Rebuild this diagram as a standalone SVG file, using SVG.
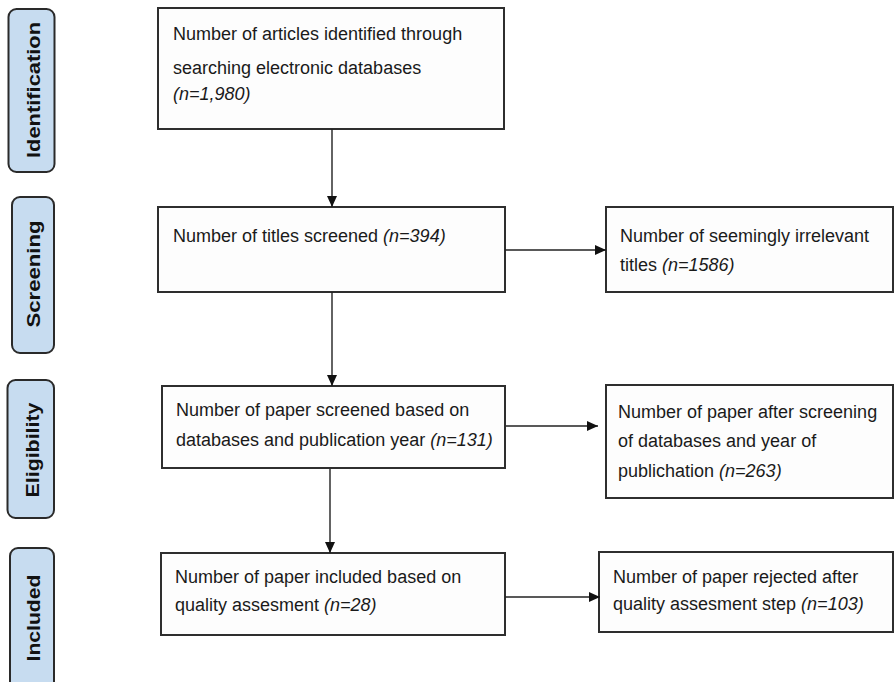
<svg xmlns="http://www.w3.org/2000/svg" width="895" height="682" viewBox="0 0 895 682">
<defs>
<marker id="ah" markerWidth="12" markerHeight="12" refX="11" refY="6" orient="auto" markerUnits="userSpaceOnUse">
<path d="M0,1 L11,6 L0,11 Z" fill="#111"/>
</marker>
<style>
.box{fill:#fdfdfd;stroke:#2e2e2e;stroke-width:2}
.side{fill:#c7dcf0;stroke:#2a2a2a;stroke-width:2}
.t{font-family:"Liberation Sans",Arial,sans-serif;font-size:18px;fill:#1a1a1a}
.i{font-style:italic}
.s{font-family:"Liberation Sans",Arial,sans-serif;font-size:19px;font-weight:bold;fill:#111;text-anchor:middle}
.c{stroke:#222;stroke-width:1.4;fill:none;marker-end:url(#ah)}
</style>
</defs>
<rect width="895" height="682" fill="#ffffff"/>

<g id="stage-identification">
<rect class="side" x="8.5" y="9" width="46" height="163" rx="8"/>
<text class="s" transform="translate(40,90) rotate(-90)" textLength="136" lengthAdjust="spacingAndGlyphs">Identification</text>
</g>
<g id="stage-screening">
<rect class="side" x="12" y="197" width="42" height="156" rx="8"/>
<text class="s" transform="translate(40,274) rotate(-90)" textLength="107" lengthAdjust="spacingAndGlyphs">Screening</text>
</g>
<g id="stage-eligibility">
<rect class="side" x="7.5" y="380" width="46.5" height="138" rx="8"/>
<text class="s" transform="translate(39,450) rotate(-90)" textLength="95" lengthAdjust="spacingAndGlyphs">Eligibility</text>
</g>
<g id="stage-included">
<rect class="side" x="10" y="548" width="44" height="160" rx="8"/>
<text class="s" transform="translate(40,618) rotate(-90)" textLength="87" lengthAdjust="spacingAndGlyphs">Included</text>
</g>

<g id="n-identified">
<rect class="box" x="158" y="8" width="346" height="121"/>
<text class="t" x="173" y="40">Number of articles identified through</text>
<text class="t" x="173" y="74">searching electronic databases</text>
<text class="t i" x="173" y="100">(n=1,980)</text>
</g>
<g id="n-titles-screened">
<rect class="box" x="158" y="207" width="347" height="85"/>
<text class="t" x="173" y="242">Number of titles screened <tspan class="i">(n=394)</tspan></text>
</g>
<g id="n-irrelevant">
<rect class="box" x="606" y="207" width="287" height="85"/>
<text class="t" x="620" y="242">Number of seemingly irrelevant</text>
<text class="t" x="620" y="271">titles <tspan class="i">(n=1586)</tspan></text>
</g>
<g id="n-paper-screened">
<rect class="box" x="162" y="386" width="343" height="82"/>
<text class="t" x="176" y="416">Number of paper screened based on</text>
<text class="t" x="176" y="446">databases and publication year <tspan class="i">(n=131)</tspan></text>
</g>
<g id="n-after-screening">
<rect class="box" x="606" y="385" width="287" height="113"/>
<text class="t" x="618" y="418">Number of paper after screening</text>
<text class="t" x="618" y="447">of databases and year of</text>
<text class="t" x="618" y="477">publichation <tspan class="i">(n=263)</tspan></text>
</g>
<g id="n-included">
<rect class="box" x="161" y="553" width="344" height="82"/>
<text class="t" x="175" y="583">Number of paper included based on</text>
<text class="t" x="175" y="611">quality assesment <tspan class="i">(n=28)</tspan></text>
</g>
<g id="n-rejected">
<rect class="box" x="599" y="552" width="294" height="80"/>
<text class="t" x="613" y="583">Number of paper rejected after</text>
<text class="t" x="613" y="610">quality assesment step <tspan class="i">(n=103)</tspan></text>
</g>

<g id="connectors">
<line class="c" x1="332" y1="129" x2="332" y2="207"/>
<line class="c" x1="505" y1="250" x2="606" y2="250"/>
<line class="c" x1="332" y1="292" x2="332" y2="386"/>
<line class="c" x1="506" y1="426" x2="598" y2="426"/>
<line class="c" x1="330" y1="469" x2="330" y2="553"/>
<line class="c" x1="505" y1="597" x2="600" y2="597"/>
</g>
</svg>
